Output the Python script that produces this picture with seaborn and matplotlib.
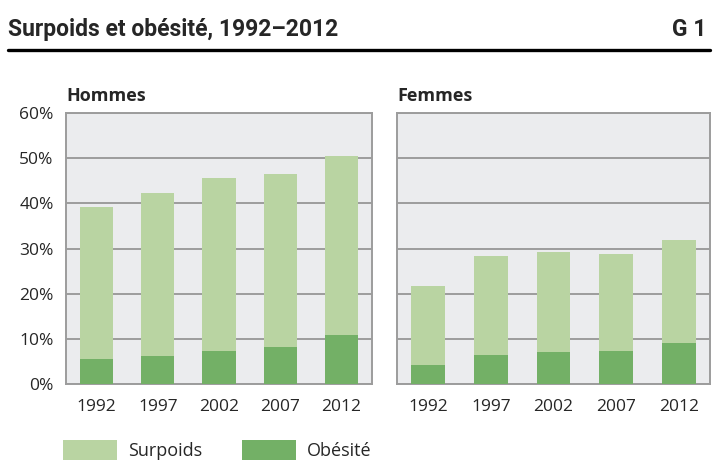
import pandas as pd
import matplotlib.pyplot as plt
import seaborn as sns
from matplotlib.patches import Patch
from matplotlib.lines import Line2D

years = ["1992", "1997", "2002", "2007", "2012"]
# share of population, % (surpoids = overweight without obesity, stacked under obesity)
hommes_surpoids = [33.6, 36.2, 38.4, 38.4, 39.7]
hommes_obesite = [5.6, 6.1, 7.3, 8.2, 10.8]
femmes_surpoids = [17.5, 21.8, 22.2, 21.4, 22.7]
femmes_obesite = [4.3, 6.5, 7.0, 7.3, 9.1]
yticks = [0, 10, 20, 30, 40, 50, 60]

light = "#b9d4a2"
dark = "#73b066"
grey = "#9c9c9c"

sns.set_style("white")
plt.rcParams["font.family"] = ["Open Sans", "DejaVu Sans"]

fig = plt.figure(figsize=(7.13, 4.62), dpi=100)
W, H = 713, 462

def px(x0, y0, x1, y1):
    return [x0 / W, 1 - y1 / H, (x1 - x0) / W, (y1 - y0) / H]

panels = [
    ("Hommes", hommes_surpoids, hommes_obesite, px(66, 113, 372, 384), True),
    ("Femmes", femmes_surpoids, femmes_obesite, px(397, 113, 710, 384), False),
]

for name, surp, obes, rect, show_labels in panels:
    ax = fig.add_axes(rect)
    ax.set_facecolor("#ebecee")
    df = pd.DataFrame({"year": years, "surpoids": surp, "obesite": obes})
    df["total"] = df["surpoids"] + df["obesite"]
    sns.barplot(data=df, x="year", y="total", color=light, width=0.54,
                saturation=1, ax=ax, zorder=3, linewidth=0)
    sns.barplot(data=df, x="year", y="obesite", color=dark, width=0.54,
                saturation=1, ax=ax, zorder=4, linewidth=0)
    ax.set_xlim(-0.5, 4.5)
    ax.set_ylim(0, 60)
    ax.set_yticks(yticks)
    ax.yaxis.grid(True, color=grey, linewidth=1.4, zorder=1)
    ax.set_axisbelow(True)
    for s in ax.spines.values():
        s.set_color(grey)
        s.set_linewidth(1.4)
    ax.tick_params(axis="y", length=4, color=grey, width=1.4, labelsize=12.5, pad=5)
    ax.tick_params(axis="x", length=0, labelsize=12.5, pad=11)
    if show_labels:
        ax.set_yticklabels([f"{v}%" for v in yticks])
    else:
        ax.set_yticklabels([])
    ax.set_xlabel("")
    ax.set_ylabel("")
    ax.text(0, 1.03, name, transform=ax.transAxes, fontsize=13,
            fontweight="bold", ha="left", va="bottom")

title_font = ["Roboto", "Open Sans", "DejaVu Sans"]
fig.text(8 / W, 1 - 36 / H, "Surpoids et obésité, 1992–2012", fontsize=16.5,
         fontweight="bold", family=title_font, ha="left", va="baseline")
fig.text(706 / W, 1 - 36 / H, "G 1", fontsize=16.5, fontweight="bold",
         family=title_font, ha="right", va="baseline")
fig.add_artist(Line2D([8 / W, 710 / W], [1 - 50 / H, 1 - 50 / H],
                      transform=fig.transFigure, color="black", linewidth=2.4))

handles = [Patch(facecolor=light, edgecolor="none", label="Surpoids"),
           Patch(facecolor=dark, edgecolor="none", label="Obésité")]
fig.legend(handles=handles, loc="center left", bbox_to_anchor=(63 / W, 1 - 450 / H),
           ncol=2, frameon=False, fontsize=13, handlelength=3.0, handleheight=1.4,
           handletextpad=0.6, columnspacing=2.2, borderpad=0, borderaxespad=0)

fig.savefig("out.png", dpi=100)
